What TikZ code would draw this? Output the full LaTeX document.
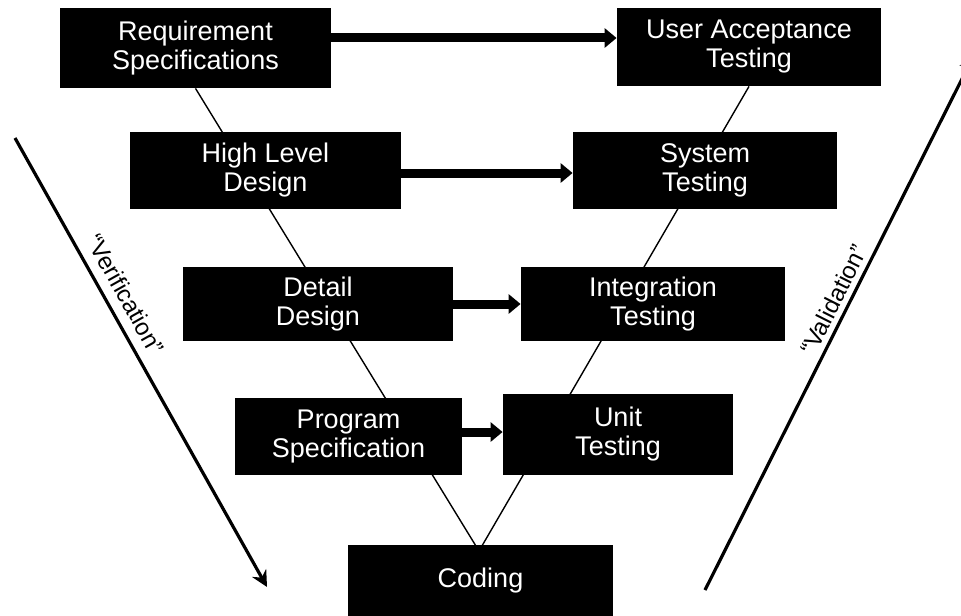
\documentclass[tikz,border=0pt]{standalone}
\usepackage{fontspec}
\setmainfont{Liberation Sans}
\usetikzlibrary{arrows.meta,backgrounds}
\begin{document}
\begin{tikzpicture}[x=0.5pt,y=-0.5pt,
        stage/.style={fill=black,text=white,align=center,inner sep=0pt,
            font=\fontsize{13.5}{14.5}\selectfont},
        bigarrow/.style={line width=4.5pt,-{Triangle[length=6pt,width=9.5pt]}},
        sidearrow/.style={line width=1.6pt,-{Stealth[length=8pt,width=8pt]}},
        vline/.style={line width=0.7pt},
        sidelabel/.style={sloped,font=\fontsize{12}{13}\selectfont}]
    \useasboundingbox (0,0) rectangle (961,615);
    \node [stage,minimum width=135.5pt,minimum height=40pt] (req) at (195.5,48) {Requirement\\Specifications};
    \node [stage,minimum width=132pt,minimum height=39pt] (uat) at (749,47) {User Acceptance\\Testing};
    \node [stage,minimum width=135.5pt,minimum height=38.5pt] (hld) at (265.5,170.5) {High Level\\Design};
    \node [stage,minimum width=132pt,minimum height=38.5pt] (sys) at (705,170.5) {System\\Testing};
    \node [stage,minimum width=135pt,minimum height=37pt] (det) at (318,304) {Detail\\Design};
    \node [stage,minimum width=132pt,minimum height=37pt] (integ) at (653,304) {Integration\\Testing};
    \node [stage,minimum width=113.5pt,minimum height=38.5pt] (prog) at (348.5,436.5) {Program\\Specification};
    \node [stage,minimum width=115pt,minimum height=40.5pt] (unit) at (618,434.5) {Unit\\Testing};
    \node [stage,minimum width=132.5pt,minimum height=36pt] (code) at (480.5,581) {Coding};
    \coordinate (v) at (479,551);
    \begin{scope}[on background layer]
        \draw [vline] (req.south) -- (v) -- (uat.south);
    \end{scope}
    \draw [bigarrow] ([yshift=5pt]req.east) -- ([yshift=5pt]req.east -| uat.west);
    \draw [bigarrow] ([yshift=-1.25pt]hld.east) -- ([yshift=-1.25pt]hld.east -| sys.west);
    \draw [bigarrow] (det.east) -- (det.east -| integ.west);
    \draw [bigarrow] ([yshift=2.25pt]prog.east) -- ([yshift=2.25pt]prog.east -| unit.west);
    \coordinate (vtop) at (15,138);
    \coordinate (vbot) at (267,587);
    \coordinate (wbot) at (705,590);
    \coordinate (wtop) at (974,55);
    \draw [sidearrow] (vtop) -- node [sidelabel,above=1.5pt,pos=0.37] (verif) {“Verification”} (vbot);
    \draw [sidearrow] (wbot) -- node [sidelabel,above,inner sep=2.4pt,pos=0.53] (valid) {“Validation”} (wtop);
\end{tikzpicture}
\end{document}
